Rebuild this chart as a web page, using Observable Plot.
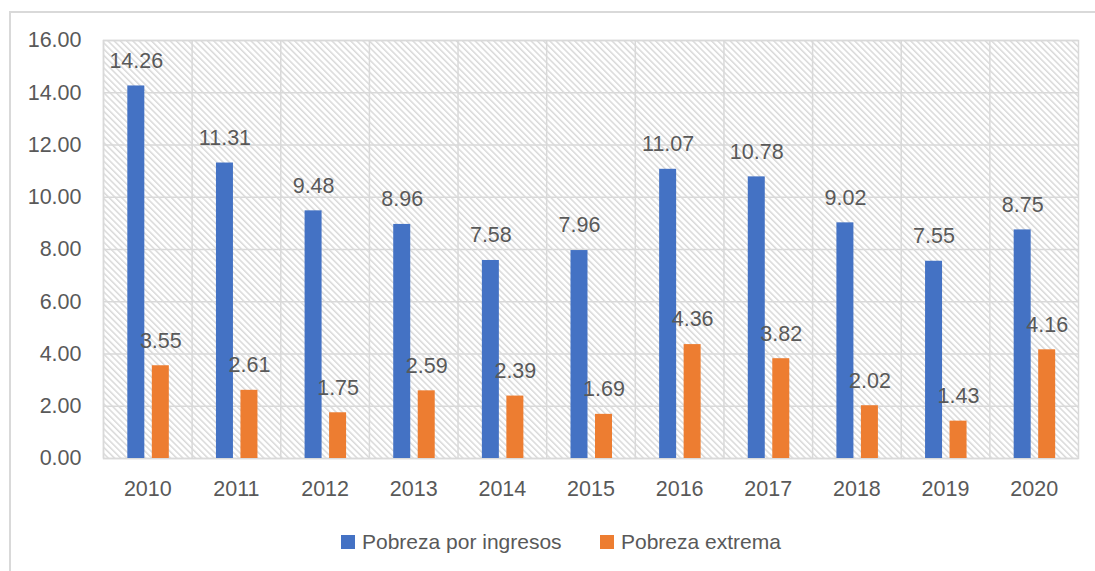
<!DOCTYPE html>
<html>
<head>
<meta charset="utf-8">
<script src="https://cdn.jsdelivr.net/npm/d3@7"></script>
<script src="https://cdn.jsdelivr.net/npm/@observablehq/plot@0.6"></script>
<style>
  html, body { margin: 0; padding: 0; background: #fff; }
  body { width: 1095px; height: 571px; position: relative; overflow: hidden; font-family: "Liberation Sans", Arial, sans-serif; }
  #border { position: absolute; left: 9px; top: 11px; width: 1200px; height: 700px; border-left: 2px solid #d9d9d9; border-top: 2px solid #d9d9d9; box-sizing: border-box; }
  #chart { position: absolute; left: 0; top: 0; }
  #legend { position: absolute; top: 530px; left: 0; width: 1095px; height: 24px; font-size: 21px; color: #595959; }
  .item { position: absolute; top: 0; display: flex; align-items: center; height: 24px; white-space: nowrap; }
  .sw { width: 14px; height: 14px; margin-right: 7px; display: inline-block; }
</style>
</head>
<body>
<div id="border"></div>
<div id="chart"></div>
<div id="legend"></div>
<script>
const years = ["2010","2011","2012","2013","2014","2015","2016","2017","2018","2019","2020"];
const ingresos = [14.26, 11.31, 9.48, 8.96, 7.58, 7.96, 11.07, 10.78, 9.02, 7.55, 8.75];
const extrema = [3.55, 2.61, 1.75, 2.59, 2.39, 1.69, 4.36, 3.82, 2.02, 1.43, 4.16];
const seriesNames = ["Pobreza por ingresos", "Pobreza extrema"];
const seriesColors = ["#4472C4", "#ED7D31"];
const yTicks = [0, 2, 4, 6, 8, 10, 12, 14, 16];

const W = 1095, H = 520;
const mL = 103, mR = 17, mT = 40, mB = 62;
const bw = (W - mL - mR) / years.length;
const half = bw / 2;
// bar offsets from the band centre
const off = [[-20, -3], [4.5, 21.5]];

const rows = [];
years.forEach((yr, i) => {
  rows.push({year: yr, s: 0, v: ingresos[i]});
  rows.push({year: yr, s: 1, v: extrema[i]});
});

const txt = "#595959";
const grid = "#d9d9d9";

const marks = [
  Plot.frame({fill: "url(#hatch)", stroke: grid, strokeWidth: 1.5}),
  Plot.gridY(yTicks, {stroke: grid, strokeOpacity: 1, strokeWidth: 1.5}),
  Plot.ruleX(years, {x: d => d, dx: -half, stroke: grid, strokeWidth: 1.5}),
];
[0, 1].forEach(s => {
  const data = rows.filter(r => r.s === s);
  marks.push(Plot.barY(data, {
    x: "year", y: "v", fill: seriesColors[s],
    insetLeft: half + off[s][0], insetRight: half - off[s][1]
  }));
  marks.push(Plot.text(data, {
    x: "year", y: "v", text: d => d.v.toFixed(2),
    dx: (off[s][0] + off[s][1]) / 2, dy: -25,
    fill: txt, fontSize: 21.5
  }));
});

const chart = Plot.plot({
  width: W, height: H,
  marginLeft: mL, marginRight: mR, marginTop: mT, marginBottom: mB,
  style: {fontFamily: "'Liberation Sans', Arial, sans-serif", fontSize: "21.5px", color: txt, background: "transparent"},
  x: {type: "band", domain: years, padding: 0, round: false, tickSize: 0, tickPadding: 22, label: null},
  y: {domain: [0, 16], ticks: yTicks, tickFormat: d => d.toFixed(2), tickSize: 0, tickPadding: 22, label: null},
  marks
});

// hatch pattern for the plot area
const svg = d3.select(chart);
const defs = svg.insert("defs", ":first-child");
const pat = defs.append("pattern")
  .attr("id", "hatch").attr("patternUnits", "userSpaceOnUse")
  .attr("width", 8).attr("height", 4.4)
  .attr("patternTransform", "rotate(45)");
pat.append("rect").attr("width", 8).attr("height", 4.4).attr("fill", "#ffffff");
pat.append("line").attr("x1", 0).attr("x2", 8).attr("y1", 1).attr("y2", 1)
  .attr("stroke", "#d6d6d6").attr("stroke-width", 1.4);

document.getElementById("chart").appendChild(chart);

// legend
const legend = document.getElementById("legend");
const legendX = [341, 600];
seriesNames.forEach((n, i) => {
  const it = document.createElement("div");
  it.className = "item";
  it.style.left = legendX[i] + "px";
  it.innerHTML = `<span class="sw" style="background:${seriesColors[i]}"></span><span>${n}</span>`;
  legend.appendChild(it);
});
</script>
</body>
</html>
